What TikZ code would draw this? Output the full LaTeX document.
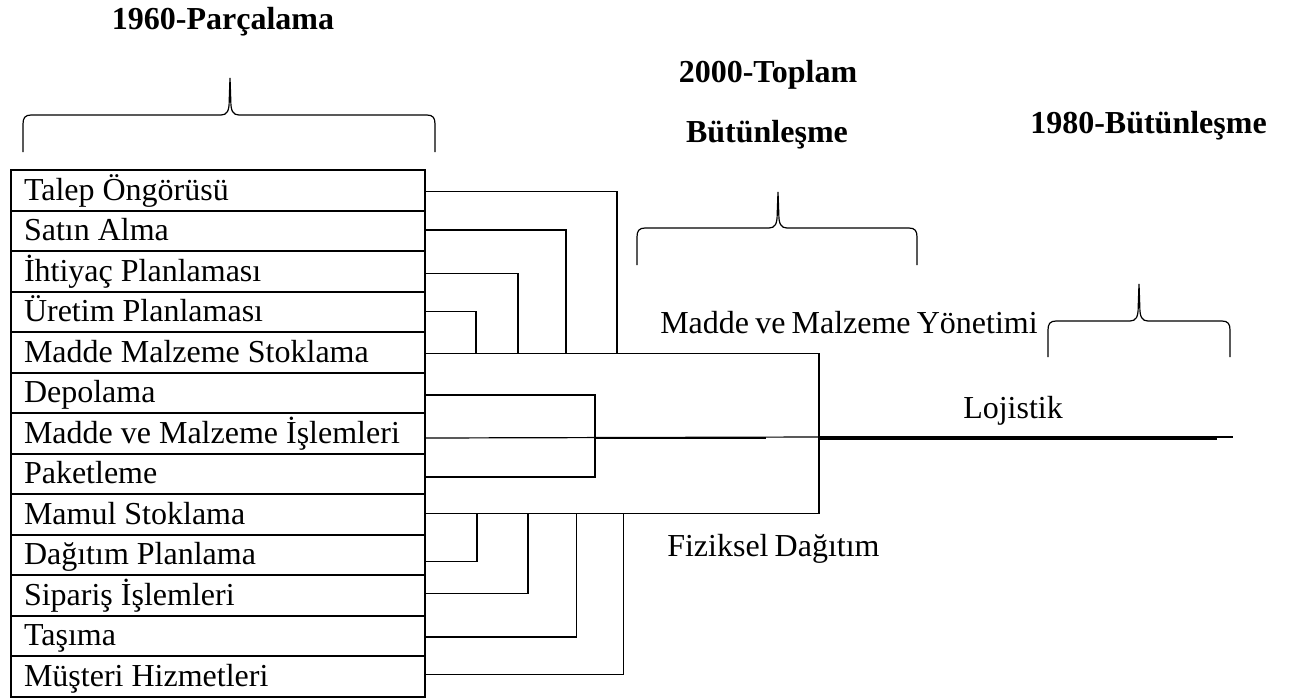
\documentclass[tikz,border=0pt]{standalone}
\usepackage{fontspec}
\setmainfont{Liberation Serif}
\usetikzlibrary{calc}

% Curly brace: left x, right x, tip x, bar y, foot y, tip y
\newcommand{\curlybrace}[6]{%
  \draw[bracepen] (#1,#5) -- (#1,#4+9) .. controls (#1,#4+3) and (#1+2,#4) .. (#1+8,#4)
    -- (#3-9,#4) .. controls (#3-3,#4) and (#3-0.8,#4-4) .. (#3-0.8,#4-14) -- (#3,#6)
    -- (#3+0.8,#4-14) .. controls (#3+0.8,#4-4) and (#3+3,#4) .. (#3+9,#4)
    -- (#2-8,#4) .. controls (#2-2,#4) and (#2,#4+3) .. (#2,#4+9) -- (#2,#5);}
% fixed interword spaces
\newcommand{\rowspace}{\spaceskip=6pt\relax}
\newcommand{\tightspace}{\spaceskip=4.6pt plus 1pt minus 1pt\relax}

\begin{document}
\begin{tikzpicture}[x=0.75pt,y=-0.75pt,
  rowbox/.style={draw, line width=1.5pt, anchor=north west,
    minimum width=310.5pt, minimum height=30.375pt,
    text width=291pt, align=left, inner xsep=9.75pt, inner ysep=0pt,
    text height=18pt, text depth=3pt,
    font=\fontsize{24}{28}\selectfont,
    execute at begin node=\rowspace},
  plaintext/.style={inner sep=0pt, font=\fontsize{24}{28}\selectfont,
    execute at begin node=\tightspace},
  headtext/.style={inner sep=0pt, font=\bfseries\fontsize{24}{28}\selectfont},
  wire/.style={line width=0.9pt},
  thickwire/.style={line width=1.5pt},
  bracepen/.style={line width=0.9pt}]
\useasboundingbox (0,0) rectangle (1299,697);

% activity list
\node[rowbox] (r1)  at (10,169)   {Talep Öngörüsü};
\node[rowbox] (r2)  at (10,209.5) {Satın Alma};
\node[rowbox] (r3)  at (10,250)   {İhtiyaç Planlaması};
\node[rowbox] (r4)  at (10,290.5) {Üretim Planlaması};
\node[rowbox] (r5)  at (10,331)   {Madde Malzeme Stoklama};
\node[rowbox] (r6)  at (10,371.5) {Depolama};
\node[rowbox] (r7)  at (10,412)   {Madde ve Malzeme İşlemleri};
\node[rowbox] (r8)  at (10,452.5) {Paketleme};
\node[rowbox] (r9)  at (10,493)   {Mamul Stoklama};
\node[rowbox] (r10) at (10,533.5) {Dağıtım Planlama};
\node[rowbox] (r11) at (10,574)   {Sipariş İşlemleri};
\node[rowbox] (r12) at (10,614.5) {Taşıma};
\node[rowbox] (r13) at (10,655)   {Müşteri Hizmetleri};

% headings and group names
\node[headtext, anchor=base] (t1960) at (223,29) {1960-Parçalama};
\node[headtext, anchor=base] (t2000a) at (768,82.7) {2000-Toplam};
\node[headtext, anchor=base] (t2000b) at (767,142.7) {Bütünleşme};
\node[headtext, anchor=base east] (t1980) at (1267,133.3) {1980-Bütünleşme};
\node[plaintext, anchor=base west] (mmy) at (660,333.3) {Madde ve Malzeme Yönetimi};
\node[plaintext, anchor=base west] (loj) at (963,418) {Lojistik};
\node[plaintext, anchor=base west] (fd) at (667,556.7) {Fiziksel Dağıtım};

% braces
\curlybrace{23}{435}{230}{115}{152}{78}
\curlybrace{637}{917}{778}{228}{265}{192}
\curlybrace{1048}{1230}{1139}{321}{357}{284}

% junctions
\coordinate (hub) at (819,437);
\coordinate (lgEnd) at (1233,437);

% materials management group
\draw[wire] ($(r1.east)+(0,1.5)$) -| ($(r5.east)+(191,1.5)$);
\draw[wire] ($(r2.east)+(0,-0.75)$) -| ($(r5.east)+(140,1.5)$);
\draw[wire] ($(r3.east)+(0,2.5)$) -| ($(r5.east)+(92,1.5)$);
\draw[wire] (r4.east) -| ($(r5.east)+(50,1.5)$);
\draw[wire] ($(r5.east)+(0,1.5)$) -| (hub) |- ($(r9.east)+(0,-0.75)$);

% middle group
\draw[wire] ($(r6.east)+(0,2.25)$) -| ($(r8.east)+(169,3.25)$) -- ($(r8.east)+(0,3.25)$);
\draw[wire] ($(r7.east)+(0,4.75)$) -- (hub);
\draw[thickwire] ($(r7.east)+(169,4.5)$) -- ($(r7.east)+(340,4.5)$);

% physical distribution group
\draw[wire] ($(r10.east)+(0,7)$) -| ($(r9.east)+(51,-0.75)$);
\draw[wire] ($(r11.east)+(0,-2)$) -| ($(r9.east)+(102,-0.75)$);
\draw[wire] ($(r12.east)+(0,1.25)$) -| ($(r9.east)+(150.5,-0.75)$);
\draw[wire] ($(r13.east)+(0,-2)$) -| ($(r9.east)+(197.5,-0.75)$);

% logistics line
\draw[wire] (hub) -- (lgEnd);
\draw[thickwire] ($(hub)+(0,1.7)$) -- ($(lgEnd)+(-16,1.7)$);
\end{tikzpicture}
\end{document}
